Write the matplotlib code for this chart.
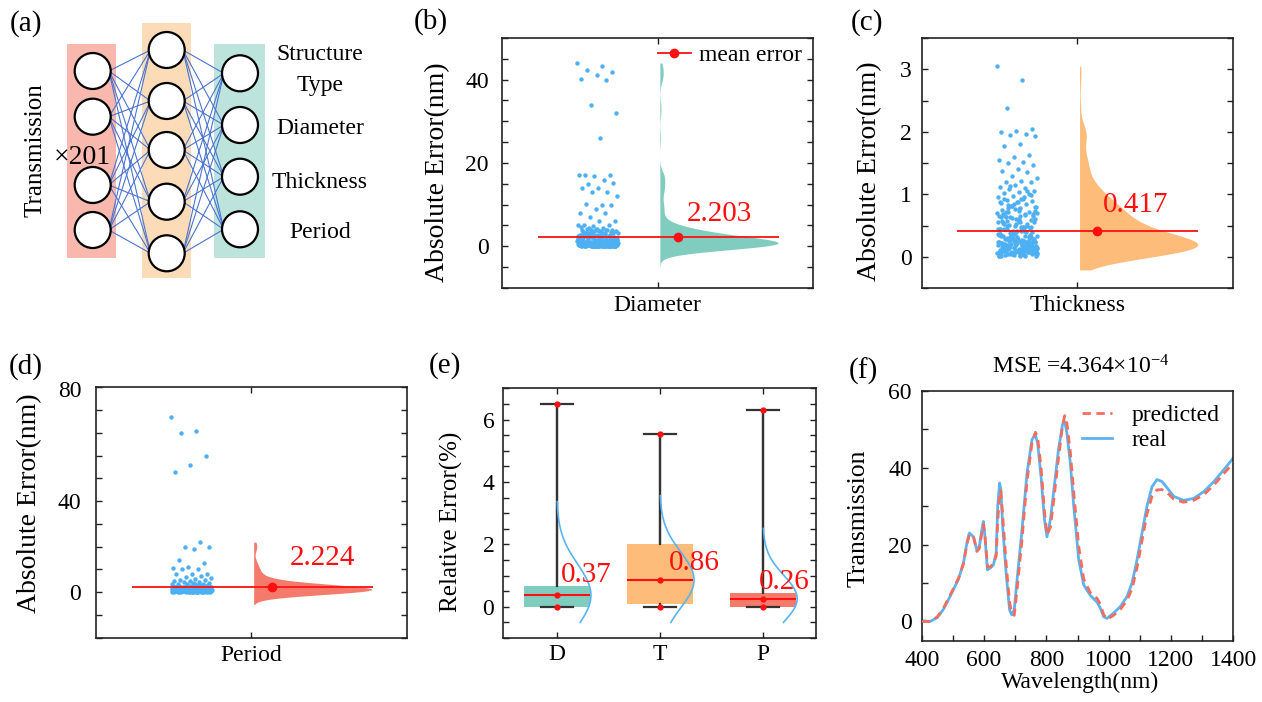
import numpy as np
import matplotlib
matplotlib.use("Agg")
import matplotlib.pyplot as plt
from matplotlib.ticker import MultipleLocator, NullLocator
from matplotlib.patches import Rectangle, Circle
from matplotlib.lines import Line2D
from matplotlib.transforms import blended_transform_factory

plt.rcParams['font.family'] = ['Liberation Serif', 'DejaVu Serif']
plt.rcParams['mathtext.fontset'] = 'custom'
plt.rcParams['mathtext.rm'] = 'Liberation Serif'
plt.rcParams['mathtext.it'] = 'Liberation Serif:italic'

# ---------------- data ----------------
diam_err = [44.0, 43.2, 42.3, 41.9, 41.0, 40.1, 39.9, 34.0, 32.0, 26.0, 17.0, 17.1, 16.9, 17.0,
            16.0, 15.0, 15.1, 14.0, 14.1, 13.0, 13.1, 12.0, 10.0, 10.1, 9.9, 9.0, 8.0, 7.9, 7.0,
            6.0, 6.1, 5.0, 5.1, 4.9, 5.0, 4.5, 4.2, 4.0, 4.1, 3.9, 4.0, 3.8, 3.7, 3.6,
            0.05, 0.12, 0.2, 0.31, 0.08, 0.45, 0.6, 0.15, 0.9, 0.02, 0.33, 0.72, 1.1, 0.25, 0.5, 0.04, 0.18, 1.4, 0.66, 0.1,
            0.85, 0.38, 0.03, 1.25, 0.55, 0.22, 0.95, 0.07, 0.42, 1.7, 0.13, 0.6, 0.28, 2.0, 0.01, 0.75, 0.47, 1.05, 0.16, 0.34,
            2.3, 0.09, 0.52, 0.8, 0.24, 1.55, 0.06, 0.4, 1.2, 0.19, 2.6, 0.68, 0.11, 0.3, 0.98, 0.57, 0.02, 1.8, 0.44, 0.26,
            2.9, 0.14, 0.62, 1.35, 0.36, 0.05, 0.78, 2.2, 0.49, 0.17, 1.0, 0.27, 3.0, 0.59, 0.08, 1.6, 0.39, 0.21, 0.88, 2.5,
            0.12, 0.46, 3.1, 0.7, 0.03, 1.15, 0.32, 0.54, 1.9, 0.23, 2.8, 0.1, 0.64, 1.45, 0.35, 0.06, 0.82, 2.1, 0.5, 0.15,
            3.2, 0.29, 1.3, 0.58, 0.04, 2.4, 0.41, 0.92, 0.18, 1.75, 0.07, 0.53, 2.7, 0.37, 0.2, 3.3, 0.86, 0.13, 1.5, 0.43,
            0.3, 1.1, 2.2, 0.7, 3.4, 0.15, 1.6, 2.9, 0.45, 1.3, 3.6, 0.9, 2.5, 0.05, 1.9, 3.1, 0.6, 1.4, 2.7, 0.25,
            3.8, 1.0, 2.0, 0.4, 3.3, 1.7, 0.1, 2.4, 0.8, 3.0, 1.25, 0.55, 2.8, 0.2, 3.5, 1.5, 0.95, 2.3, 0.35, 4.2,
            0.65, 1.85, 3.2, 0.12, 2.6, 1.15, 0.5, 3.7, 1.45, 0.75, 2.1, 0.28, 3.9, 1.05, 0.42, 2.45, 1.65, 0.08, 3.15, 0.85,
            1.35, 2.75, 0.18, 4.4, 0.58, 1.95, 3.45, 0.32, 2.15, 1.2, 0.7, 2.95, 0.48, 1.55, 4.7, 0.22, 2.35, 1.75, 0.62, 3.25]
thick_err = [3.05, 2.83, 2.38, 2.04, 2.02, 2.0, 1.97, 1.95, 1.93, 1.8, 1.78, 1.63, 1.6, 1.55, 1.52, 1.5,
             1.47, 1.4, 1.38, 1.36, 1.3, 1.26, 1.22, 1.2, 1.19, 1.15, 1.12, 1.1, 1.08, 1.05, 1.04, 1.02,
             1.0, 0.98, 0.96, 0.93, 0.91, 0.89, 0.88, 0.86, 0.84, 0.82, 0.8, 0.78,
             0.03, 0.12, 0.25, 0.07, 0.41, 0.18, 0.55, 0.09, 0.33, 0.21, 0.62, 0.14, 0.04, 0.29, 0.47, 0.1, 0.36, 0.68, 0.16, 0.23,
             0.01, 0.52, 0.27, 0.08, 0.44, 0.19, 0.72, 0.06, 0.31, 0.58, 0.13, 0.38, 0.02, 0.24, 0.65, 0.15, 0.49, 0.11, 0.34, 0.05,
             0.26, 0.57, 0.2, 0.09, 0.42, 0.7, 0.17, 0.3, 0.04, 0.53, 0.22, 0.12, 0.39, 0.61, 0.07, 0.28, 0.46, 0.14, 0.35, 0.03,
             0.19, 0.66, 0.25, 0.1, 0.5, 0.32, 0.06, 0.43, 0.16, 0.59, 0.21, 0.37, 0.01, 0.27, 0.74, 0.13, 0.45, 0.08, 0.3, 0.55,
             0.18, 0.04, 0.4, 0.23, 0.63, 0.11, 0.34, 0.07, 0.48, 0.2, 0.15, 0.36, 0.02, 0.26, 0.51, 0.09, 0.29, 0.69, 0.17, 0.05,
             0.33, 0.12, 0.44, 0.22, 0.6, 0.06, 0.24, 0.38, 0.14, 0.56, 0.1, 0.31, 0.03, 0.19, 0.47, 0.28, 0.08, 0.41, 0.16, 0.21,
             0.05, 0.14, 0.22, 0.09, 0.31, 0.17, 0.45, 0.03, 0.26, 0.12, 0.58, 0.19, 0.07, 0.36, 0.24, 0.1, 0.5, 0.15, 0.28, 0.02,
             0.4, 0.2, 0.11, 0.66, 0.16, 0.33, 0.06, 0.23, 0.48, 0.13, 0.29, 0.08, 0.54, 0.18, 0.38, 0.04, 0.27, 0.71, 0.14, 0.21,
             0.44, 0.09, 0.32, 0.16, 0.6, 0.12, 0.25, 0.05, 0.37, 0.19, 0.83, 0.1, 0.3, 0.22, 0.52, 0.07, 0.17, 0.42, 0.13, 0.35,
             0.24, 0.01, 0.46, 0.15, 0.28, 0.77, 0.11, 0.2, 0.39, 0.06, 0.26, 0.57, 0.18, 0.09, 0.33, 0.14, 0.64, 0.23, 0.03, 0.93,
             0.72, 0.85, 0.66, 0.95, 0.78, 0.69, 0.88, 0.75, 1.06, 0.81, 0.7, 0.92, 0.63, 0.99, 0.76, 0.87, 0.67, 1.13, 0.8, 0.73]
period_err = [77.0, 71.0, 70.0, 60.0, 56.0, 53.0, 22.0, 20.0, 19.9, 19.0, 14.0, 13.0, 11.0, 10.8, 10.3, 10.0,
              8.1, 7.9, 8.0, 7.0, 6.6, 6.2, 6.0, 5.5, 5.2, 5.0, 4.8, 4.5, 4.3, 4.0, 4.1, 3.8, 3.7, 3.5, 3.4,
              0.2, 0.6, 1.1, 0.4, 1.8, 0.9, 2.4, 0.1, 1.3, 0.7, 2.9, 0.3, 1.6, 0.5, 2.1, 1.0, 0.15, 1.4, 0.8, 2.6,
              0.35, 1.9, 0.05, 1.2, 0.65, 2.3, 0.45, 1.5, 0.95, 3.1, 0.25, 1.7, 0.55, 2.0, 0.12, 1.05, 0.75, 2.7, 0.38, 1.35,
              0.85, 2.2, 0.08, 1.55, 0.48, 2.5, 0.28, 1.15, 0.68, 3.0, 0.18, 1.75, 0.58, 2.15, 0.02, 1.25, 0.88, 2.8, 0.42, 1.45,
              0.32, 1.95, 0.72, 2.35, 0.1, 1.65, 0.52, 2.65, 0.22, 1.08, 0.92, 2.05, 0.62, 1.38, 0.06, 2.45, 0.78, 1.85, 0.3, 1.22,
              0.5, 1.0, 0.4, 1.6, 0.7, 2.2, 0.2, 1.3, 0.9, 2.6, 0.35, 1.1, 0.6, 1.9, 0.15, 1.45, 0.8, 2.4, 0.45, 1.2,
              0.25, 1.35, 0.75, 2.05, 0.1, 1.7, 0.55, 2.9, 0.38, 1.15, 0.95, 2.3, 0.05, 1.5, 0.65, 3.3, 0.3, 1.85, 0.85, 2.55,
              0.18, 1.25, 0.48, 2.75, 0.7, 1.6, 0.12, 2.15, 0.9, 1.4, 0.42, 3.6, 0.6, 1.05, 0.22, 2.4, 0.8, 1.95, 0.33, 1.55]
mean_errors = [2.203, 0.417, 2.224]
param_names = ['Diameter', 'Thickness', 'Period']

rel_labels = ['D', 'T', 'P']
rel_min = [0.0, 0.0, 0.0]
rel_q1 = [0.0, 0.08, -0.02]
rel_med = [0.37, 0.86, 0.26]
rel_q3 = [0.68, 2.0, 0.44]
rel_max = [6.5, 5.55, 6.3]
rel_sd = [1.0, 0.9, 0.75]

wavelength = [400, 427, 450, 470, 491, 518, 534, 545, 553, 566, 577, 585, 593, 598, 603, 611, 620, 630, 639, 644,
              650, 654, 660, 671, 682, 689, 697, 705, 721, 738, 754, 765, 772, 783, 794, 802, 813, 823, 839, 852,
              859, 866, 877, 888, 904, 920, 941, 963, 973, 984, 995, 1016, 1038, 1059, 1075, 1091, 1107, 1123, 1139, 1155,
              1171, 1188, 1209, 1241, 1273, 1306, 1338, 1370, 1400]
trans_real = [0.2, 0.0, 1.0, 3.2, 6.5, 11.0, 15.2, 20.4, 23.0, 22.0, 18.6, 19.5, 23.8, 26.0, 22.0, 13.4, 13.9, 14.7, 17.8, 30.0,
              36.0, 34.3, 24.7, 12.5, 3.0, 1.7, 3.0, 10.0, 23.0, 38.6, 47.3, 48.6, 46.4, 37.7, 26.5, 22.0, 26.5, 33.4, 44.7, 51.2,
              52.0, 49.0, 41.2, 30.0, 16.0, 9.5, 6.8, 5.0, 3.5, 1.2, 0.8, 2.2, 3.9, 6.5, 10.0, 16.0, 23.0, 30.0, 35.0, 36.9,
              36.4, 34.7, 32.5, 31.5, 32.0, 33.8, 36.4, 39.5, 42.5]
trans_pred = [0.0, 0.0, 1.2, 3.5, 6.8, 11.2, 15.0, 20.0, 22.6, 22.2, 18.2, 19.0, 23.0, 25.2, 22.5, 14.2, 14.2, 15.0, 17.0, 26.0,
              33.0, 34.0, 27.5, 15.0, 5.0, 2.2, 1.6, 7.5, 20.5, 36.5, 46.5, 49.2, 48.0, 40.0, 28.5, 22.5, 24.5, 31.0, 42.5, 51.0,
              53.5, 51.5, 44.0, 33.5, 19.5, 11.0, 7.5, 6.0, 4.5, 1.8, 0.6, 1.6, 3.2, 5.5, 8.5, 14.0, 21.0, 28.0, 32.5, 34.2,
              34.3, 33.5, 31.8, 31.0, 31.5, 33.0, 35.5, 38.5, 41.2]
mse_text = 'MSE =4.364×10$^{-4}$'

# ---------------- styling ----------------
W, H = 1262, 702
FS = 17
LFS = 20
SPINE = '#222222'
SCAT = '#4cb0f2'
RED = '#ff1010'
TEAL = '#80cdc0'
ORANGE = '#fdbc7a'
SALMON = '#f47b6c'

fig = plt.figure(figsize=(W / 100, H / 100), dpi=100)


def ax_px(x0, y0, x1, y1):
    return fig.add_axes([x0 / W, 1 - y1 / H, (x1 - x0) / W, (y1 - y0) / H])


def ftext(x, y, s, **kw):
    fig.text(x / W, 1 - y / H, s, **kw)


def style(ax, ypad, xpad, mirror=True):
    for sp in ax.spines.values():
        sp.set_linewidth(1.2)
        sp.set_color(SPINE)
    ax.tick_params(which='both', direction='in', top=mirror, right=mirror,
                   length=4, width=1, color=SPINE, labelsize=FS)
    ax.tick_params(axis='y', which='both', pad=ypad)
    ax.tick_params(axis='x', which='both', pad=xpad)


# ---------------- (a) network diagram ----------------
axa = ax_px(0, 0, 420, 320)
axa.set_xlim(0, 420)
axa.set_ylim(320, 0)
axa.axis('off')
axa.add_patch(Rectangle((66.7, 44.3), 49.3, 214, color='#f8b8ad', lw=0, zorder=0))
axa.add_patch(Rectangle((141.7, 23.3), 49.0, 255, color='#fcdcb8', lw=0, zorder=0))
axa.add_patch(Rectangle((214.3, 44.3), 50.7, 214, color='#bde4dc', lw=0, zorder=0))
r = 18
cols = [(92.7, [71, 116.7, 185, 230]), (166.7, [50, 101, 150, 201.7, 253.3]), (240, [73.3, 125, 176.7, 229.3])]
for (xa, ya), (xb, yb) in zip(cols[:-1], cols[1:]):
    for y1 in ya:
        for y2 in yb:
            axa.plot([xa + r * 0.9, xb - r * 0.9], [y1, y2], color='#4a74d0', lw=0.8, zorder=1)
for xc, ys in cols:
    for yc in ys:
        axa.add_patch(Circle((xc, yc), r, facecolor='white', edgecolor='black', lw=1.6, zorder=2))
axa.text(35, 150, 'Transmission', rotation=90, ha='center', va='center', fontsize=18)
axa.text(82, 157, '×201', ha='center', va='center', fontsize=20, zorder=3)
for lab, yy in zip(['Structure', 'Type', 'Diameter', 'Thickness', 'Period'], [55, 85, 128, 182, 233]):
    axa.text(320, yy, lab, ha='center', va='center', fontsize=FS)

# ---------------- (b),(c),(d) raincloud panels ----------------
def raincloud(ax, vals, mean, name, color, bw, vmin, vtop, ylim, major, minor, txt_xy, ypad):
    vals = np.asarray(vals, float)
    n = len(vals)
    frac = (np.arange(n) * 0.6180339887) % 1.0
    xs = -0.385 + (frac - 0.5) * 0.26
    ax.scatter(xs, vals, s=10, color=SCAT, lw=0, zorder=2)
    kv = vals[vals <= vtop]
    yy = np.linspace(vmin, kv.max(), 600)
    dens = np.exp(-0.5 * ((yy[:, None] - kv[None, :]) / bw) ** 2).sum(1)
    dens = dens / dens.max() * 0.76
    ax.fill_betweenx(yy, 0.015, 0.015 + dens, color=color, lw=0, zorder=1)
    ax.hlines(mean, -0.77, 0.78, color=RED, lw=1.3, zorder=3)
    ax.plot([0.13], [mean], 'o', color=RED, ms=6, zorder=4)
    ax.text(txt_xy[0], txt_xy[1], f'{mean:.3f}', color=RED, fontsize=21, ha='left', va='baseline', zorder=5)
    ax.set_xlim(-1, 1)
    ax.set_ylim(*ylim)
    ax.set_xticks([0])
    ax.set_xticklabels([name])
    ax.xaxis.set_minor_locator(NullLocator())
    ax.yaxis.set_major_locator(MultipleLocator(major))
    ax.yaxis.set_minor_locator(MultipleLocator(minor))
    style(ax, ypad, 5)
    ax.set_ylabel('Absolute Error(nm)', fontsize=LFS)


axb = ax_px(502, 38, 813, 288)
raincloud(axb, diam_err, mean_errors[0], param_names[0], TEAL, 1.4, -5.0, 100, (-10, 50), 20, 5, (0.19, 6.0), 9.5)
axb.yaxis.set_label_coords(-0.167, 0.465)
axb.legend(handles=[Line2D([], [], color=RED, marker='o', ms=6, lw=1.3)], labels=['mean error'],
           loc='upper right', bbox_to_anchor=(1.01, 1.03), frameon=False, fontsize=FS,
           handlelength=1.4, handletextpad=0.35, borderaxespad=0.2)

axc = ax_px(921.7, 38, 1232.7, 288)
raincloud(axc, thick_err, mean_errors[1], param_names[1], ORANGE, 0.15, -0.21, 100, (-0.5, 3.5), 1, 0.5, (0.168, 0.72), 7)
axc.yaxis.set_label_coords(-0.128, 0.469)

axd = ax_px(96, 387.3, 406.7, 637.7)
raincloud(axd, period_err, mean_errors[2], param_names[2], SALMON, 2.0, -5.4, 30, (-20, 90), 40, 10, (0.245, 11.8), 11)
axd.set_yticks([0, 40])
axd.yaxis.set_label_coords(-0.175, 0.538)
axd.text(-0.046, 88, '80', transform=blended_transform_factory(axd.transAxes, axd.transData),
         ha='right', va='center', fontsize=FS)

# ---------------- (e) relative error boxes ----------------
axe = ax_px(503.3, 388.3, 815.7, 638)
pos = [1, 2, 3]
stats = [dict(med=m, q1=a, q3=b, whislo=lo, whishi=hi, fliers=[], label=l)
         for m, a, b, lo, hi, l in zip(rel_med, rel_q1, rel_q3, rel_min, rel_max, rel_labels)]
bp = axe.bxp(stats, positions=pos, widths=0.64, patch_artist=True, showfliers=False, capwidths=0.31,
             boxprops=dict(lw=0), whiskerprops=dict(color='#333333', lw=1.6),
             capprops=dict(color='#333333', lw=1.6), medianprops=dict(color=RED, lw=1.5))
for patch, c in zip(bp['boxes'], [TEAL, ORANGE, SALMON]):
    patch.set_facecolor(c)
    patch.set_edgecolor('none')
for p, mn, md, mx, sd in zip(pos, rel_min, rel_med, rel_max, rel_sd):
    axe.vlines(p, mn, mx, color='#333333', lw=1.6, zorder=1)
    axe.plot([p, p, p], [mn, md, mx], 'o', color=RED, ms=3.5, zorder=5)
    yy = np.linspace(-0.5, md + 3 * sd, 200)
    axe.plot(p + 0.33 * np.exp(-0.5 * ((yy - md) / sd) ** 2), yy, color='#5ab4f0', lw=1.2, zorder=4)
for p, md, dx, yb in zip(pos, rel_med, [0.04, 0.09, -0.04], [0.80, 1.18, 0.57]):
    axe.text(p + dx, yb, f'{md:.2f}', color=RED, fontsize=21, ha='left', va='baseline', zorder=6)
axe.set_xlim(0.48, 3.51)
axe.set_ylim(-1, 7)
axe.set_xticks(pos)
axe.set_xticklabels(rel_labels)
axe.yaxis.set_major_locator(MultipleLocator(2))
axe.yaxis.set_minor_locator(MultipleLocator(0.5))
axe.xaxis.set_minor_locator(NullLocator())
style(axe, 6.5, 4)
axe.set_ylabel('Relative Error(%)', fontsize=18)
axe.yaxis.set_label_coords(-0.129, 0.466)

# ---------------- (f) spectrum ----------------
axf = ax_px(921.7, 390.7, 1233.3, 640.7)
axf.plot(wavelength, trans_real, color='#5cb3ee', lw=2.0, label='real', zorder=2)
axf.plot(wavelength, trans_pred, color='#f46d5e', lw=2.0, ls=(0, (3, 2)), label='predicted', zorder=3)
axf.set_xlim(400, 1400)
axf.set_ylim(-5, 60)
axf.xaxis.set_major_locator(MultipleLocator(200))
axf.xaxis.set_minor_locator(MultipleLocator(100))
axf.yaxis.set_major_locator(MultipleLocator(20))
axf.yaxis.set_minor_locator(MultipleLocator(10))
style(axf, 7, 7, mirror=False)
axf.set_ylabel('Transmission', fontsize=18.5)
axf.yaxis.set_label_coords(-0.166, 0.49)
axf.set_xlabel('Wavelength(nm)', fontsize=FS)
axf.xaxis.set_label_coords(0.508, -0.125)
hs, ls = axf.get_legend_handles_labels()
axf.legend([hs[1], hs[0]], [ls[1], ls[0]], loc='upper right', bbox_to_anchor=(1.0, 1.0), frameon=False,
           fontsize=FS, handlelength=1.3, handletextpad=0.8, labelspacing=0.15, borderaxespad=0.2)
ftext(1081, 367, mse_text, ha='center', va='center', fontsize=FS)

# ---------------- panel labels ----------------
for lab, (x, y) in zip(['(a)', '(b)', '(c)', '(d)', '(e)', '(f)'],
                       [(25.5, 23.5), (430.5, 21.5), (867, 23), (25.5, 367), (445, 366), (863, 371)]):
    ftext(x, y, lab, ha='center', va='center', fontsize=21)

fig.savefig('out.png', dpi=100)
